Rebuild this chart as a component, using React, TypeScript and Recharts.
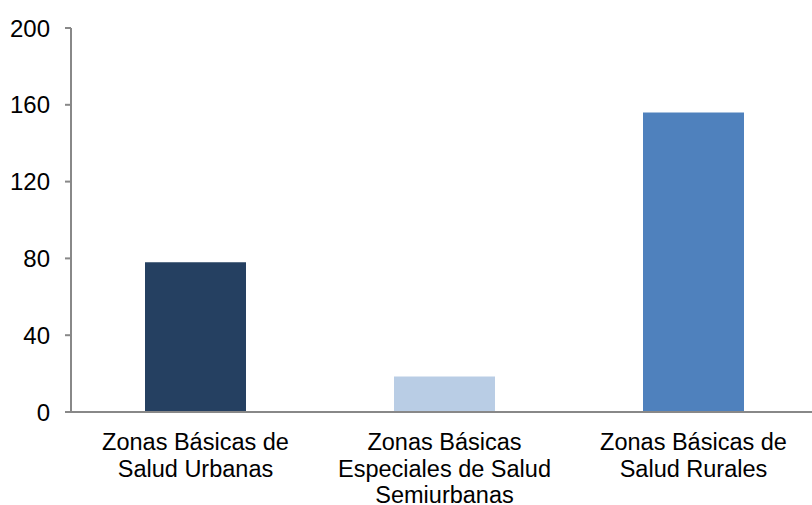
import { BarChart, Bar, XAxis, YAxis, Cell } from "recharts";

const categories = [
  "Zonas Básicas de Salud Urbanas",
  "Zonas Básicas Especiales de Salud Semiurbanas",
  "Zonas Básicas de Salud Rurales",
];
// how the labels wrap in the reference
const labelLines: Record<string, string[]> = {
  "Zonas Básicas de Salud Urbanas": ["Zonas Básicas de", "Salud Urbanas"],
  "Zonas Básicas Especiales de Salud Semiurbanas": ["Zonas Básicas", "Especiales de Salud", "Semiurbanas"],
  "Zonas Básicas de Salud Rurales": ["Zonas Básicas de", "Salud Rurales"],
};
const values = [78, 18.5, 156];
const colors = ["#254061", "#B9CDE5", "#4F81BD"];
const yTicks = [0, 40, 80, 120, 160, 200];
const boundaryTicks = [0, 1, 2, 3];

const data = categories.map((name, i) => ({ name, value: values[i] }));

const FONT = "'Liberation Sans', Arial, sans-serif";
const AXIS = "#888888";

function CategoryTick({ x, y, payload }: any) {
  const lines = labelLines[payload.value] || [payload.value];
  return (
    <text x={x} y={y + 38} textAnchor="middle" fontSize={23.5} fontFamily={FONT} fill="#000">
      {lines.map((l, i) => (
        <tspan key={i} x={x} dy={i === 0 ? 0 : 26.7}>
          {l}
        </tspan>
      ))}
    </text>
  );
}

export default function App() {
  return (
    <div style={{ position: "fixed", left: 0, top: 0, width: 812, height: 505, overflow: "hidden", background: "#fff" }}>
      <BarChart
        width={818}
        height={505}
        data={data}
        margin={{ top: 28, right: 0, bottom: 33, left: 0 }}
      >
        <XAxis
          dataKey="name"
          xAxisId="cat"
          axisLine={{ stroke: AXIS, strokeWidth: 2 }}
          tickLine={false}
          tickSize={0}
          tickMargin={0}
          tick={<CategoryTick />}
          height={60}
          interval={0}
        />
        <XAxis
          xAxisId="edge"
          type="number"
          domain={[0, 3]}
          ticks={boundaryTicks}
          tick={false}
          axisLine={false}
          tickLine={{ stroke: AXIS, strokeWidth: 2 }}
          tickSize={7}
          height={0}
        />
        <YAxis
          domain={[0, 200]}
          ticks={yTicks}
          width={71}
          axisLine={{ stroke: AXIS, strokeWidth: 2 }}
          tickLine={{ stroke: AXIS, strokeWidth: 2 }}
          tickSize={6}
          tickMargin={15}
          tick={{ fontSize: 24, fontFamily: FONT, fill: "#000" }}
        />
        <Bar dataKey="value" xAxisId="cat" barSize={101} isAnimationActive={false}>
          {data.map((_, i) => (
            <Cell key={i} fill={colors[i]} />
          ))}
        </Bar>
      </BarChart>
    </div>
  );
}
